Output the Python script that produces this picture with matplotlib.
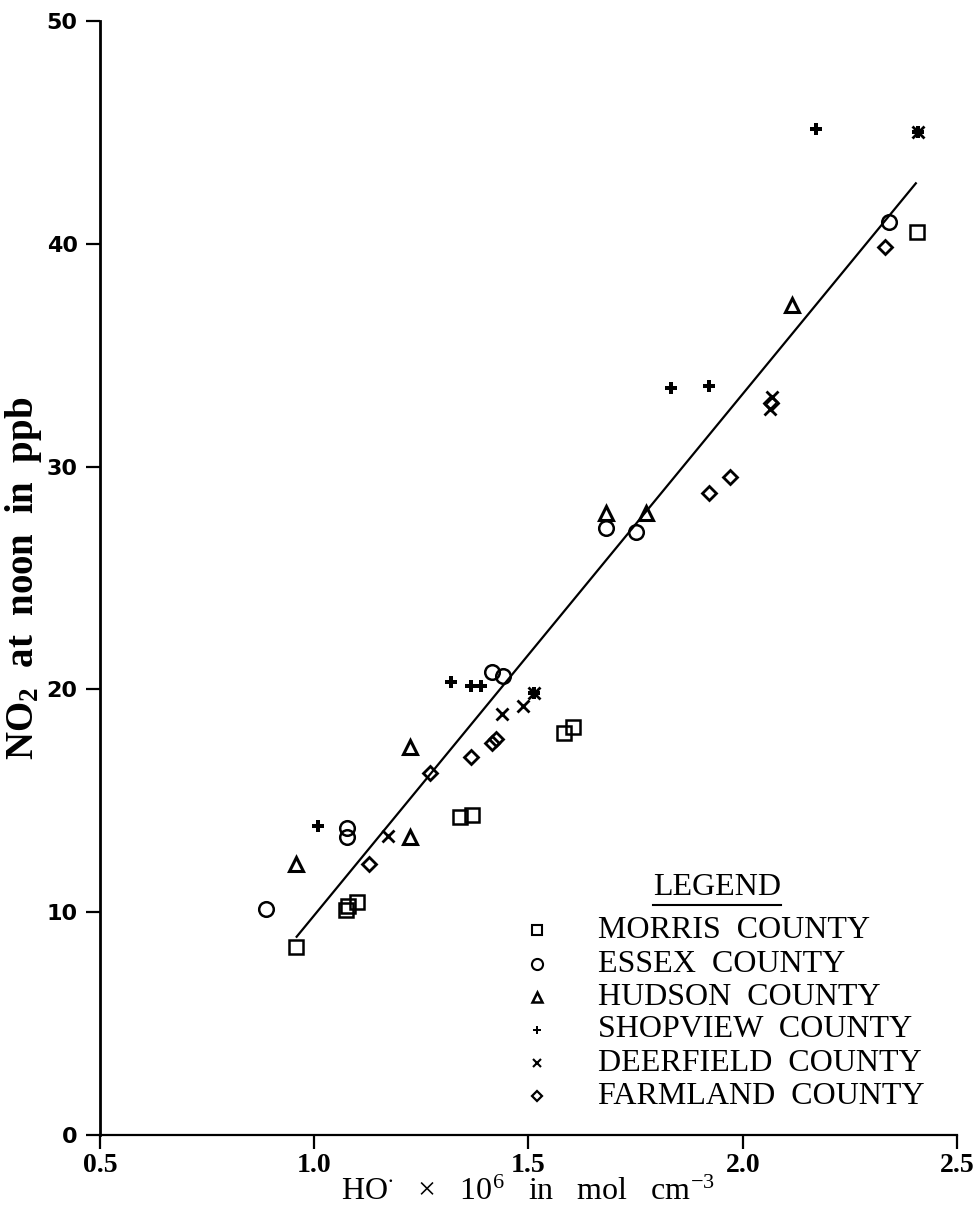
import matplotlib
matplotlib.use("Agg")
import matplotlib.pyplot as plt
import numpy as np

plt.rcParams["mathtext.fontset"] = "custom"
plt.rcParams["mathtext.rm"] = "Liberation Serif"
plt.rcParams["mathtext.it"] = "Liberation Serif:italic"
plt.rcParams["mathtext.bf"] = "Liberation Serif:bold"

# HO radical concentration (x 10^6 mol cm^-3) and noon NO2 (ppb) per county
morris_x = [0.958, 1.075, 1.080, 1.100, 1.341, 1.368, 1.582, 1.604, 2.407]
morris_y = [8.44, 10.10, 10.28, 10.45, 14.29, 14.36, 18.06, 18.33, 40.54]

essex_x = [0.887, 1.077, 1.077, 1.415, 1.441, 1.680, 1.752, 2.342]
essex_y = [10.16, 13.77, 13.39, 20.79, 20.60, 27.23, 27.05, 40.98]

hudson_x = [0.958, 1.223, 1.223, 1.680, 1.775, 2.116]
hudson_y = [12.16, 13.39, 17.40, 27.93, 27.91, 37.25]

shopview_x = [1.008, 1.319, 1.366, 1.390, 1.512, 1.832, 1.921, 2.171, 2.408]
shopview_y = [13.88, 20.35, 20.15, 20.15, 19.83, 33.54, 33.62, 45.14, 45.03]

deerfield_x = [1.173, 1.438, 1.488, 1.512, 2.069, 2.064, 2.408]
deerfield_y = [13.44, 18.90, 19.27, 19.83, 33.14, 32.58, 45.03]

farmland_x = [1.127, 1.271, 1.367, 1.414, 1.424, 1.921, 1.970, 2.065, 2.332]
farmland_y = [12.17, 16.24, 16.95, 17.58, 17.76, 28.83, 29.52, 32.87, 39.86]

# Least-squares line drawn through the data
fit_slope = 23.40
fit_intercept = -13.54
fit_x_range = [0.959, 2.404]

county_names = ["MORRIS  COUNTY", "ESSEX  COUNTY", "HUDSON  COUNTY",
                "SHOPVIEW  COUNTY", "DEERFIELD  COUNTY", "FARMLAND  COUNTY"]

x_ticks = [0.5, 1.0, 1.5, 2.0, 2.5]
x_tick_labels = ["0.5", "1.0", "1.5", "2.0", "2.5"]
y_ticks = [0, 10, 20, 30, 40, 50]

fig = plt.figure(figsize=(9.78, 12.18), dpi=100)
ax = fig.add_axes([0.1022, 0.0681, 0.8763, 0.9147])

series = [
    (morris_x, morris_y, "s", 9.5, 1.8),
    (essex_x, essex_y, "o", 10.5, 1.8),
    (hudson_x, hudson_y, "^", 9.5, 2.2),
    (shopview_x, shopview_y, "P", 8.0, 0.0),
    (deerfield_x, deerfield_y, "x", 8.5, 2.0),
    (farmland_x, farmland_y, "D", 7.0, 2.0),
]

for xs, ys, mk, ms, mew in series:
    if mk == "P":
        ax.plot(xs, ys, linestyle="none", marker=mk, markersize=ms,
                color="black", markeredgewidth=0)
    else:
        ax.plot(xs, ys, linestyle="none", marker=mk, markersize=ms,
                markerfacecolor="none", markeredgecolor="black",
                markeredgewidth=mew)

fx = np.array(fit_x_range)
ax.plot(fx, fit_intercept + fit_slope * fx, color="black", linewidth=1.6)

ax.set_xlim(0.5, 2.5)
ax.set_ylim(0, 50)
ax.spines["top"].set_visible(False)
ax.spines["right"].set_visible(False)
ax.spines["left"].set_linewidth(2.0)
ax.spines["bottom"].set_linewidth(1.6)

ax.set_xticks(x_ticks)
ax.set_xticklabels(x_tick_labels, fontfamily="Liberation Serif",
                   fontweight="bold", fontsize=20)
ax.set_yticks(y_ticks)
ax.set_yticklabels([str(v) for v in y_ticks], fontfamily="DejaVu Sans",
                   fontweight="heavy", fontsize=16)
ax.tick_params(axis="both", direction="out", length=10, width=1.6, colors="black")
ax.tick_params(axis="x", pad=3)
ax.tick_params(axis="y", pad=6)

ax.set_xlabel(r"HO$^{\bullet}$   $\times$   10$^{6}$   in   mol   cm$^{-3}$",
              fontfamily="Liberation Serif", fontsize=23, labelpad=0)
ax.set_ylabel(r"NO$_{\mathbf{2}}$  at  noon  in  ppb", fontfamily="Liberation Serif",
              fontweight="bold", fontsize=28, labelpad=2)

# Hand-placed legend block in the lower right
ax.text(0.720, 0.222, "LEGEND", transform=ax.transAxes, ha="center",
        va="center", fontfamily="Liberation Serif", fontsize=23)
ax.plot([0.645, 0.795], [0.2065, 0.2065], transform=ax.transAxes,
        color="black", linewidth=1.5, clip_on=False)

legend_rows = [0.184, 0.1535, 0.1239, 0.0943, 0.0646, 0.0350]
legend_markers = [("s", 7, 1.5), ("o", 8, 1.5), ("^", 7, 1.8),
                  ("P", 6, 0.0), ("x", 6, 1.5), ("D", 5.5, 1.6)]
for name, yrow, (mk, ms, mew) in zip(county_names, legend_rows, legend_markers):
    if mk == "P":
        ax.plot([0.510], [yrow], transform=ax.transAxes, marker=mk,
                markersize=ms, color="black", markeredgewidth=0,
                linestyle="none", clip_on=False)
    else:
        ax.plot([0.510], [yrow], transform=ax.transAxes, marker=mk,
                markersize=ms, markerfacecolor="none",
                markeredgecolor="black", markeredgewidth=mew,
                linestyle="none", clip_on=False)
    ax.text(0.581, yrow, name, transform=ax.transAxes, ha="left",
            va="center", fontfamily="Liberation Serif", fontsize=23)

fig.savefig("out.png", dpi=100, facecolor="white")
